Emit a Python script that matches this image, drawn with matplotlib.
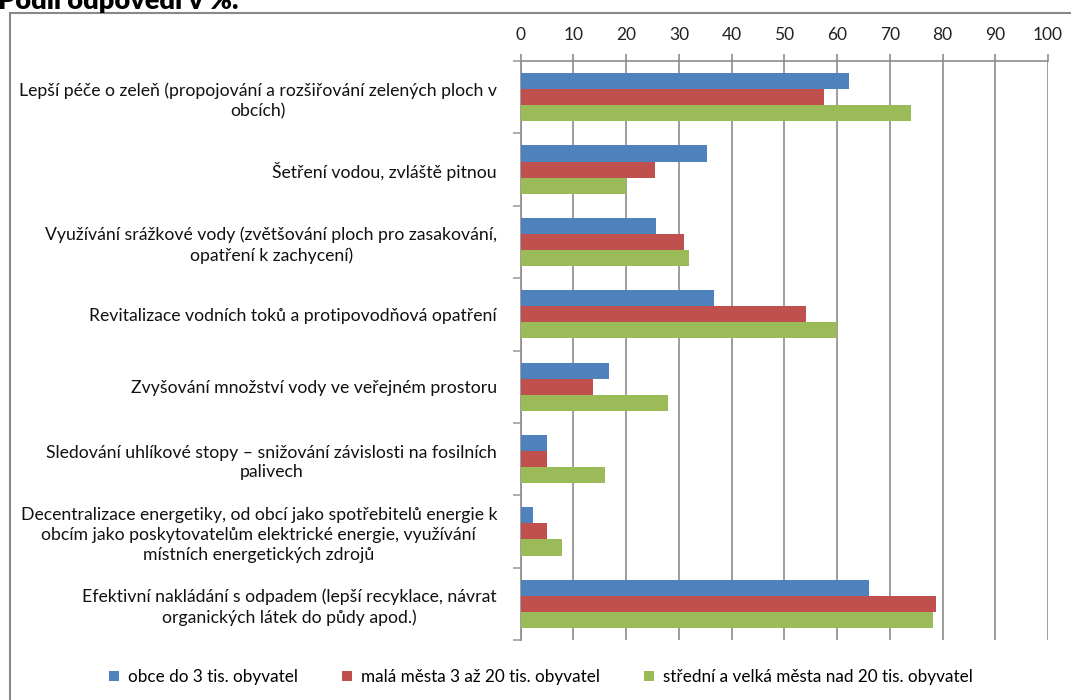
import matplotlib
matplotlib.use("Agg")
import matplotlib.pyplot as plt
from matplotlib.patches import Rectangle, Patch
import numpy as np

plt.rcParams['font.family'] = ['Lato', 'DejaVu Sans']

categories = [
    "Lepší péče o zeleň (propojování a rozšiřování zelených ploch v\nobcích)",
    "Šetření vodou, zvláště pitnou",
    "Využívání srážkové vody (zvětšování ploch pro zasakování,\nopatření k zachycení)",
    "Revitalizace vodních toků a protipovodňová opatření",
    "Zvyšování množství vody ve veřejném prostoru",
    "Sledování uhlíkové stopy – snižování závislosti na fosilních\npalivech",
    "Decentralizace energetiky, od obcí jako spotřebitelů energie k\nobcím jako poskytovatelům elektrické energie, využívání\nmístních energetických zdrojů",
    "Efektivní nakládání s odpadem (lepší recyklace, návrat\norganických látek do půdy apod.)",
]
series_names = [
    "obce do 3 tis. obyvatel",
    "malá města 3 až 20 tis. obyvatel",
    "střední a velká města nad 20 tis. obyvatel",
]
obce = [62.2, 35.4, 25.7, 36.7, 16.7, 4.9, 2.4, 66.0]
mala = [57.5, 25.5, 31.0, 54.2, 13.7, 4.9, 4.9, 78.8]
stredni = [74.0, 19.9, 32.0, 60.0, 27.9, 15.9, 7.8, 78.1]
x_ticks = [0, 10, 20, 30, 40, 50, 60, 70, 80, 90, 100]
title = "Podíl odpovědí v %."

colors = ["#4F81BD", "#C0504D", "#9BBB59"]
grid_c = "#8C8C8C"

W, H = 1071, 700
fig = plt.figure(figsize=(W / 100, H / 100), dpi=100)

# outer chart border
fig.patches.append(Rectangle((10 / W, -0.05), 1.2, 1 - 13 / H + 0.05,
                             transform=fig.transFigure, fill=False,
                             edgecolor="#888888", linewidth=1.5, clip_on=False))

fig.text(-0.002, 1 - 9 / H, title, fontsize=19.5, fontweight='heavy',
         ha='left', va='baseline', color='black')

left = 520.7 / W
right = 1048 / W
top = 1 - 61 / H
bottom = 1 - 640 / H
ax = fig.add_axes([left, bottom, right - left, top - bottom])

n = len(categories)
y = np.arange(n)
h = 0.222
for i, (vals, c) in enumerate(zip([obce, mala, stredni], colors)):
    ax.barh(y + (i - 1) * h, vals, height=h, color=c, zorder=3,
            edgecolor='none', label=series_names[i])

ax.set_xlim(0, 100)
ax.set_ylim(n - 0.5, -0.5)
ax.xaxis.tick_top()
ax.set_xticks(x_ticks)
ax.set_xticklabels([str(t) for t in x_ticks], fontsize=12.5, color='#222222')
ax.tick_params(axis='x', length=5, width=1.2, color=grid_c, pad=8)
ax.grid(axis='x', color=grid_c, linewidth=1.2, zorder=0)

# category separators as ticks
ax.set_yticks(np.arange(n + 1) - 0.5, minor=False)
ax.set_yticklabels([])
ax.tick_params(axis='y', which='major', length=6, width=1.2, color='#A0A0A0')
ax.set_yticks(y, minor=True)
ax.set_yticklabels(categories, minor=True, fontsize=12.7, color='#111111')
ax.tick_params(axis='y', which='minor', length=0, pad=17)
for lbl in ax.get_yticklabels(minor=True):
    lbl.set_multialignment('center')
    lbl.set_linespacing(1.3)

for s in ['right', 'bottom']:
    ax.spines[s].set_visible(False)
ax.spines['left'].set_color(grid_c)
ax.spines['left'].set_linewidth(1.2)
ax.spines['top'].set_color(grid_c)
ax.spines['top'].set_linewidth(1.2)

handles = [Patch(facecolor=c, edgecolor='none') for c in colors]
fig.legend(handles, series_names, loc='center', bbox_to_anchor=(0.505, 1 - 677 / H),
           ncol=3, frameon=False, fontsize=12.3, handlelength=0.6, handleheight=0.6,
           handletextpad=0.5, columnspacing=2.6)

fig.savefig("out.png", dpi=100)
